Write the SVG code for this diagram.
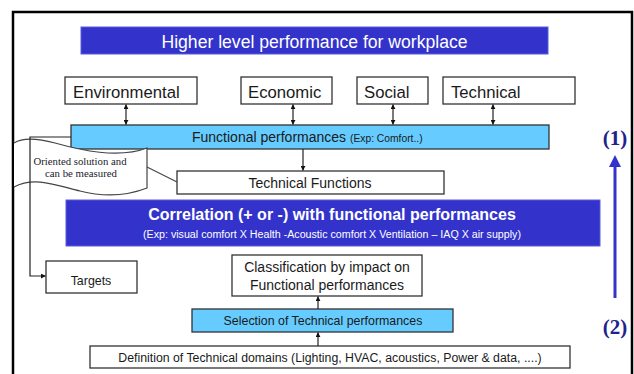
<svg xmlns="http://www.w3.org/2000/svg" width="634" height="374" viewBox="0 0 634 374">
<style>
.box{fill:#fff;stroke:#333;stroke-width:1.3}
.lb{fill:#66ccff;stroke:#333;stroke-width:1.3}
.db{fill:#3333cc;stroke:#5a5ae0;stroke-width:1}
.t{font-family:"Liberation Sans",Arial,sans-serif;fill:#1a1a1a}
.w{font-family:"Liberation Sans",Arial,sans-serif;fill:#fff}
.s{font-family:"Liberation Serif","Times New Roman",serif}
.c{fill:none;stroke:#222;stroke-width:1.2}
</style>
<defs>
<marker id="ah" viewBox="0 0 8 8" refX="7.5" refY="4" markerWidth="5" markerHeight="5" orient="auto-start-reverse" markerUnits="userSpaceOnUse">
<path d="M0,0 L8,4 L0,8 z" fill="#111"/>
</marker>
</defs>
<rect x="0" y="0" width="634" height="374" fill="#fff"/>
<rect x="13" y="12" width="619" height="380" fill="#fff" stroke="#000" stroke-width="2.5"/>

<g id="title">
<rect class="db" x="81" y="27" width="467" height="27"/>
<text class="w" x="314.5" y="47.5" font-size="17.6" text-anchor="middle">Higher level performance for workplace</text>
</g>

<g id="environmental">
<rect class="box" x="65" y="77" width="132" height="27"/>
<text class="t" x="73" y="98" font-size="16.7">Environmental</text>
</g>
<g id="economic">
<rect class="box" x="241" y="77" width="91" height="27"/>
<text class="t" x="248" y="98" font-size="16.7">Economic</text>
</g>
<g id="social">
<rect class="box" x="357" y="77" width="71" height="27"/>
<text class="t" x="364" y="98" font-size="16.7">Social</text>
</g>
<g id="technical">
<rect class="box" x="443" y="77" width="132" height="27"/>
<text class="t" x="451" y="98" font-size="16.7">Technical</text>
</g>

<g id="functional">
<rect class="lb" x="71" y="125" width="478" height="24"/>
<text class="t" x="192" y="142" font-size="14">Functional performances <tspan font-size="10.3">(Exp: Comfort..)</tspan></text>
</g>

<g id="callout">
<path d="M14,143 C22,138 36,138 55,143 C80,150 118,159 147,148 L147,188 C124,197 100,196 80,191 C56,185 34,176 14,187" fill="#fff" stroke="#444" stroke-width="1.2"/>
<text class="s" x="80" y="165" font-size="10.5" text-anchor="middle" fill="#1a1a2a" textLength="93" lengthAdjust="spacingAndGlyphs">Oriented solution and</text>
<text class="s" x="81" y="176.5" font-size="10.5" text-anchor="middle" fill="#1a1a2a" textLength="72" lengthAdjust="spacingAndGlyphs">can be measured</text>
</g>

<g id="technical-functions">
<rect class="box" x="177" y="171" width="267" height="23"/>
<text class="t" x="310" y="188" font-size="14" text-anchor="middle">Technical Functions</text>
</g>

<g id="correlation">
<rect class="db" x="66" y="200" width="534" height="46"/>
<text class="w" x="332" y="219.5" font-size="16" font-weight="bold" text-anchor="middle">Correlation (+ or -) with functional performances</text>
<text class="w" x="332" y="238" font-size="10" text-anchor="middle" textLength="378" lengthAdjust="spacingAndGlyphs">(Exp: visual comfort X Health -Acoustic comfort X Ventilation – IAQ X air supply)</text>
</g>

<g id="targets">
<rect class="box" x="46" y="261" width="91" height="32"/>
<text class="t" x="91" y="284.5" font-size="12.4" text-anchor="middle">Targets</text>
</g>

<g id="classification">
<rect class="box" x="232" y="255" width="190" height="41"/>
<text class="t" x="327" y="272" font-size="14" text-anchor="middle">Classification by impact on</text>
<text class="t" x="327" y="290" font-size="14" text-anchor="middle">Functional performances</text>
</g>

<g id="selection">
<rect class="lb" x="192" y="309" width="261" height="23"/>
<text class="t" x="323" y="325" font-size="12.4" text-anchor="middle">Selection of Technical performances</text>
</g>

<g id="definition">
<rect class="box" x="90" y="346" width="480" height="22"/>
<text class="t" x="330" y="362" font-size="12.3" text-anchor="middle">Definition of Technical domains (Lighting, HVAC, acoustics, Power &amp; data, ....)</text>
</g>

<g id="connectors">
<line class="c" x1="126" y1="104.5" x2="126" y2="124.5" marker-start="url(#ah)" marker-end="url(#ah)"/>
<line class="c" x1="293" y1="104.5" x2="293" y2="124.5" marker-start="url(#ah)" marker-end="url(#ah)"/>
<line class="c" x1="393" y1="104.5" x2="393" y2="124.5" marker-start="url(#ah)" marker-end="url(#ah)"/>
<line class="c" x1="493" y1="104.5" x2="493" y2="124.5" marker-start="url(#ah)" marker-end="url(#ah)"/>
<line class="c" x1="303" y1="149" x2="303" y2="170.5" marker-end="url(#ah)"/>
<polyline class="c" points="71,137 30,137 30,276 45.5,276" marker-end="url(#ah)"/>
<line x1="147" y1="167" x2="177" y2="182" stroke="#444" stroke-width="1.2"/>
<line class="c" x1="318" y1="309" x2="318" y2="296.5" marker-end="url(#ah)"/>
<line class="c" x1="318" y1="346" x2="318" y2="332.5" marker-end="url(#ah)"/>
</g>

<g id="progress">
<line x1="615" y1="165" x2="615" y2="298" stroke="#3333cc" stroke-width="3"/>
<path d="M615,155 L621,167 L609,167 z" fill="#3333cc"/>
<text class="s" x="615" y="145" font-size="21" font-weight="bold" text-anchor="middle" fill="#22228a">(1)</text>
<text class="s" x="615" y="334" font-size="21" font-weight="bold" text-anchor="middle" fill="#22228a">(2)</text>
</g>
</svg>
